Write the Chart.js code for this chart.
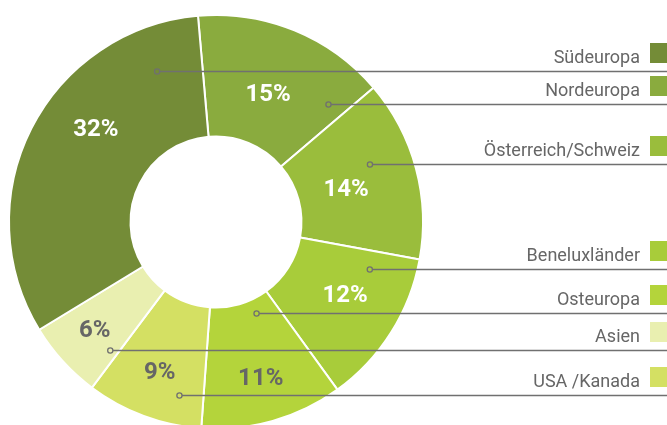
<!DOCTYPE html>
<html lang="de">
<head>
  <meta charset="UTF-8" />
  <title>Regionen</title>
  <script src="https://cdn.jsdelivr.net/npm/chart.js"></script>
  <style>
    html, body { margin: 0; padding: 0; background: #fff; overflow: hidden; }
    .wrap { width: 667px; height: 425px; overflow: hidden; position: relative; }
    canvas { display: block; }
  </style>
</head>
<body>
  <div class="wrap"><canvas id="regionChart" width="667" height="440"></canvas></div>

  <script>
    // data, clockwise from the top
    const regions = ['Nordeuropa', 'Österreich/Schweiz', 'Beneluxländer', 'Osteuropa', 'USA /Kanada', 'Asien', 'Südeuropa'];
    const shares = [15, 14, 12, 11, 9, 6, 32];

    const sliceColors = ['#8aab3e', '#9abd3c', '#a8cc3a', '#b4d43b', '#d4e063', '#e9efb0', '#748c37'];
    const pctColors = ['#fff', '#fff', '#fff', '#666', '#666', '#666', '#fff'];

    // where inside each slice the % label and the leader dot sit: [share of angle, share of ring]
    const pctSpots = [[0.5, 0.43], [0.52, 0.40], [0.44, 0.52], [0.5, 0.64], [0.5, 0.62], [0.51, 0.64], [0.59, 0.54]];
    const dotSpots = [[0.89, 0.64], [0.39, 0.65], [0.15, 0.62], [0.30, 0.12], [0.24, 0.75], [0.13, 0.66], [0.86, 0.63]];

    const spotAt = (arc, t, f) => {
      const a = arc.startAngle + t * (arc.endAngle - arc.startAngle);
      const r = arc.innerRadius + f * (arc.outerRadius - arc.innerRadius);
      return { x: arc.x + r * Math.cos(a), y: arc.y + r * Math.sin(a) };
    };

    const calloutPlugin = {
      id: 'callouts',
      afterDatasetsDraw(chart) {
        const ctx = chart.ctx;
        const arcs = chart.getDatasetMeta(0).data;
        const right = 667;

        ctx.save();
        arcs.forEach((el, i) => {
          const arc = el.getProps(['x', 'y', 'startAngle', 'endAngle', 'innerRadius', 'outerRadius'], true);

          // percentage
          const p = spotAt(arc, pctSpots[i][0], pctSpots[i][1]);
          ctx.font = 'bold 24px Roboto';
          ctx.textAlign = 'center';
          ctx.textBaseline = 'middle';
          ctx.fillStyle = pctColors[i];
          ctx.fillText(shares[i] + '%', p.x, p.y);

          // leader dot + line
          const d = spotAt(arc, dotSpots[i][0], dotSpots[i][1]);
          const y = Math.round(d.y) + 0.5;
          ctx.strokeStyle = '#707070';
          ctx.lineWidth = 1.3;
          ctx.beginPath();
          ctx.arc(d.x, y, 2.6, 0, Math.PI * 2);
          ctx.stroke();
          ctx.beginPath();
          ctx.moveTo(d.x + 2.6, y);
          ctx.lineTo(right, y);
          ctx.stroke();

          // legend entry above the line
          ctx.fillStyle = sliceColors[i];
          ctx.fillRect(650, y - 28.5, 20, 20);
          ctx.font = '18px Roboto';
          ctx.textAlign = 'right';
          ctx.textBaseline = 'alphabetic';
          ctx.fillStyle = '#666';
          ctx.fillText(regions[i], 640, y - 8.5);
        });
        ctx.restore();
      }
    };

    const ctx = document.getElementById('regionChart').getContext('2d');
    const chart = new Chart(ctx, {
      type: 'doughnut',
      data: {
        labels: regions,
        datasets: [{
          data: shares,
          backgroundColor: sliceColors,
          borderColor: '#fff',
          borderWidth: 2,
          hoverOffset: 0
        }]
      },
      options: {
        responsive: false,
        animation: false,
        rotation: -5,
        cutout: '41.3%',
        layout: { padding: { left: 8, top: 14, right: 243, bottom: 10 } },
        plugins: {
          legend: { display: false },
          tooltip: { enabled: false }
        }
      },
      plugins: [calloutPlugin]
    });
  </script>
</body>
</html>
